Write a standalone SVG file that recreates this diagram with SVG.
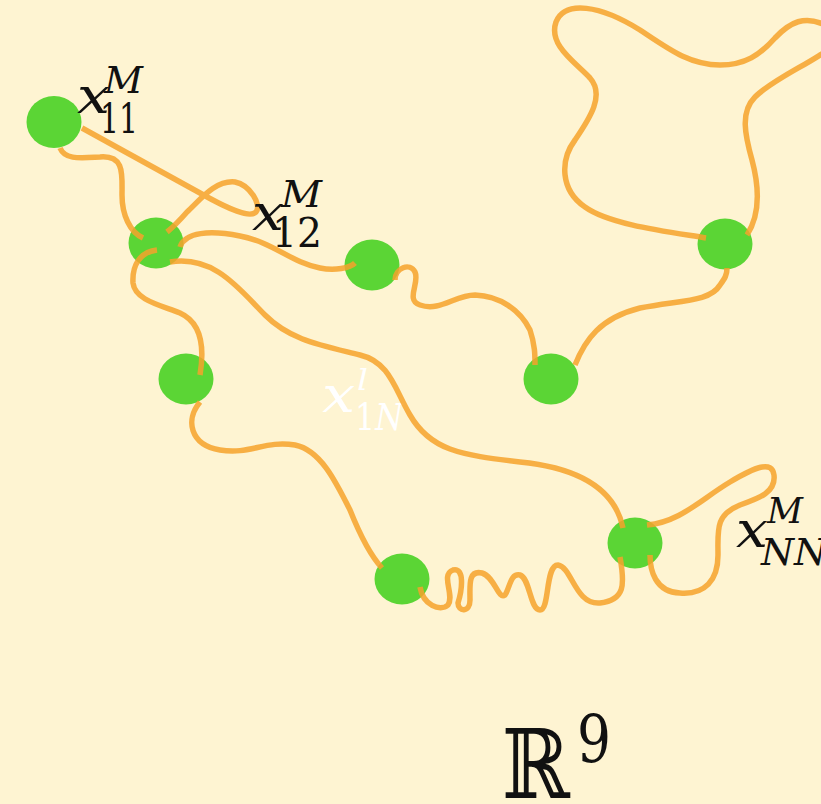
<svg xmlns="http://www.w3.org/2000/svg" width="821" height="804" viewBox="0 0 821 804">
<style>
.node{fill:#5bd535}
.wire{fill:none;stroke:#f6a22c;stroke-width:5.5;stroke-opacity:0.85;stroke-linecap:butt}
.lbl{font-family:"DejaVu Serif","Liberation Serif",serif;fill:#111}
.wh{font-family:"DejaVu Serif","Liberation Serif",serif;fill:#ffffff}
.it{font-style:italic}
</style>
<rect width="821" height="804" fill="#fef4d2"/>
<g id="node-1"><ellipse class="node" cx="54" cy="122" rx="27.5" ry="26"/></g>
<g id="node-2"><ellipse class="node" cx="156" cy="243" rx="27.5" ry="25.5"/></g>
<g id="node-3"><ellipse class="node" cx="372" cy="265" rx="27.5" ry="25.5"/></g>
<g id="node-4"><ellipse class="node" cx="186" cy="379" rx="27.5" ry="25.5"/></g>
<g id="node-5"><ellipse class="node" cx="551" cy="379" rx="27.5" ry="25.5"/></g>
<g id="node-6"><ellipse class="node" cx="725" cy="244" rx="27.5" ry="25.5"/></g>
<g id="node-7"><ellipse class="node" cx="402" cy="579" rx="27.5" ry="25.5"/></g>
<g id="node-8"><ellipse class="node" cx="635" cy="543" rx="27.5" ry="25.5"/></g>
<g id="label-1N" class="wh">
<text x="322" y="412" font-size="50" class="it" textLength="33" lengthAdjust="spacingAndGlyphs">x</text>
<text x="357" y="390" font-size="30" class="it" textLength="11" lengthAdjust="spacingAndGlyphs">l</text>
<text x="355" y="430" font-size="38" textLength="48" lengthAdjust="spacingAndGlyphs">1<tspan class="it">N</tspan></text>
</g>
<g id="connectors">
<path class="wire" d="M60,148 C65,160 80,158 100,157 C125,155 122,175 122,195 C122,215 130,232 143,238"/>
<path class="wire" d="M82,128 L200,193 C230,210 250,218 256,212 C262,205 250,185 235,182 C215,180 200,200 187,212 C180,220 172,228 167,232"/>
<path class="wire" d="M180,247 C185,232 210,230 240,236 C275,243 290,262 320,268 C335,271 350,268 355,263"/>
<path class="wire" d="M395,280 C395,268 410,262 415,272 C420,283 405,300 420,305 C440,312 455,295 475,295 C500,296 520,310 530,330 C535,345 535,355 535,365"/>
<path class="wire" d="M575,365 C585,340 600,318 640,308 C680,300 710,302 720,285 C725,278 727,275 727,268"/>
<path class="wire" d="M706,238 C670,232 610,225 585,207 C560,190 560,160 575,140 C590,118 605,95 590,78 C575,62 548,45 556,22 C565,0 600,5 640,30 C670,50 690,65 720,65 C745,65 760,55 775,38 C790,22 805,15 825,25 C840,32 838,45 820,55 C800,68 770,82 755,97 C740,112 745,135 752,160 C760,190 760,215 747,235"/>
<path class="wire" d="M157,250 C140,252 132,265 133,283 C135,300 160,305 180,313 C200,322 205,345 200,375"/>
<path class="wire" d="M170,262 C215,255 240,290 265,315 C290,340 320,345 360,355 C390,362 395,390 410,415 C430,450 460,455 520,462 C580,468 615,490 623,528"/>
<path class="wire" d="M200,402 C185,420 190,445 220,450 C250,455 265,440 295,445 C320,450 335,480 350,510 C360,535 370,555 382,568"/>
<path class="wire" d="M420,587 C423,605 440,612 448,605 C455,595 440,575 453,570 C465,567 462,590 458,603 C458,612 470,613 470,600 C470,585 468,570 482,573 C495,577 498,600 505,595 C510,588 510,573 520,575 C530,578 530,610 540,610 C550,610 545,565 558,565 C572,567 575,605 600,603 C625,600 625,585 620,557"/>
<path class="wire" d="M647,525 C680,522 700,500 730,482 C755,467 772,460 774,475 C776,492 760,498 740,505 C715,515 718,530 718,555 C718,580 705,595 680,593 C655,592 650,570 650,555"/>
</g>
<g id="label-11" class="lbl">
<text x="77" y="113" font-size="50" class="it" textLength="33" lengthAdjust="spacingAndGlyphs">x</text>
<text x="104" y="93" font-size="38" class="it" textLength="39" lengthAdjust="spacingAndGlyphs">M</text>
<text x="100" y="133" font-size="41" textLength="38" lengthAdjust="spacingAndGlyphs">11</text>
</g>
<g id="label-12" class="lbl">
<text x="252" y="230" font-size="50" class="it" textLength="32" lengthAdjust="spacingAndGlyphs">x</text>
<text x="281" y="207" font-size="38" class="it" textLength="41" lengthAdjust="spacingAndGlyphs">M</text>
<text x="272" y="247" font-size="41" textLength="50" lengthAdjust="spacingAndGlyphs">12</text>
</g>
<g id="label-NN" class="lbl">
<text x="736" y="547" font-size="50" class="it" textLength="32" lengthAdjust="spacingAndGlyphs">x</text>
<text x="767" y="523" font-size="36" class="it" textLength="36" lengthAdjust="spacingAndGlyphs">M</text>
<text x="761" y="565" font-size="38" class="it" textLength="66" lengthAdjust="spacingAndGlyphs">NN</text>
</g>
<g id="label-R9" class="lbl">
<text x="502" y="798" font-size="96" textLength="68" lengthAdjust="spacingAndGlyphs">ℝ</text>
<text x="577" y="762" font-size="66" textLength="34" lengthAdjust="spacingAndGlyphs">9</text>
</g>
</svg>
